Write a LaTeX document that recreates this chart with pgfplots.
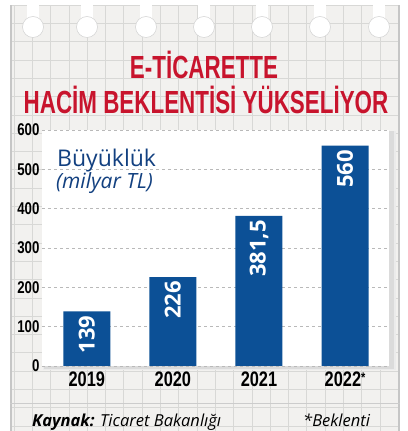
\documentclass[border=0pt]{standalone}
\usepackage{fontspec}
\usepackage{pgfplots}
\pgfplotsset{compat=1.18}
\setmainfont{Open Sans}
\newfontfamily\titlefont[FakeStretch=0.70]{Liberation Sans}
\newfontfamily\tickfont[FakeStretch=0.78]{Liberation Sans}
\newfontfamily\barfont{Open Sans}
\definecolor{barblue}{RGB}{12,80,150}
\definecolor{legblue}{RGB}{18,64,128}
\definecolor{titlered}{RGB}{200,20,45}
\definecolor{paper}{RGB}{242,241,239}
\definecolor{gridc}{RGB}{216,216,214}
\begin{document}
\begin{tikzpicture}[x=1pt,y=1pt]
\path[use as bounding box] (0,0) rectangle (407,431);
\fill[white] (0,0) rectangle (407,431);
% paper
\fill[paper] (10,0) rectangle (400,426);
\begin{scope}
\clip (10,0) rectangle (400,426);
\foreach \i in {0,...,22} {\draw[gridc,line width=0.7pt] ({14+\i*18.3},0) -- ({14+\i*18.3},426);}
\foreach \j in {0,...,23} {\draw[gridc,line width=0.7pt] (10,{5+\j*18.3}) -- (400,{5+\j*18.3});}
\end{scope}
\draw[gray!45,line width=2pt] (11,0) -- (11,426);
\draw[gray!45,line width=2pt] (399,0) -- (399,426);
\draw[gray!40,line width=0.8pt] (10,28) -- (400,28);
% holes
\foreach \x in {33,87,146,204,262,320,379} {
  \fill[white] (\x,404) circle (10.5);
  \fill[white] (\x-6,408) rectangle (\x+6,427);
  \draw[gray!35,line width=0.5pt] (\x,404) circle (10.5);
}
% title
\node[font=\titlefont\bfseries\fontsize{32}{32}\selectfont, text=titlered, anchor=base] at (204,352) {E-TİCARETTE};
\node[font=\titlefont\bfseries\fontsize{32}{32}\selectfont, text=titlered, anchor=base] at (206,317) {HACİM BEKLENTİSİ YÜKSELİYOR};
% shadow
\fill[black!8] (43,61) rectangle (396,300);
\fill[black!14] (44,62) rectangle (394,300);
\begin{axis}[
  at={(42pt,65pt)}, anchor=south west,
  scale only axis, width=347pt, height=236pt,
  xmin=-0.52, xmax=3.51, ymin=0, ymax=600,
  ybar, bar width=47pt, bar shift=0pt,
  axis line style={draw=none},
  axis background/.style={fill=white},
  ymajorgrids, grid style={dashed, gray!55, line width=0.6pt},
  ytick={0,100,...,600}, xtick={0,1,2,3},
  xticklabels={2019,2020,2021,2022{\fontsize{14}{14}\selectfont\raisebox{4pt}{*}}},
  major tick length=0pt,
  /pgf/number format/assume math mode=true,
  yticklabel style={font=\tickfont\bfseries\fontsize{17}{17}\selectfont, xshift=1pt},
  xticklabel style={font=\tickfont\bfseries\fontsize{21}{21}\selectfont, yshift=-2pt},
  nodes near coords, point meta=explicit symbolic,
  every node near coord/.append style={rotate=90, anchor=east, font=\barfont\bfseries\fontsize{22}{22}\selectfont, text=white, inner xsep=4pt},
  clip=false,
]
\addplot[fill=barblue, draw=none] coordinates {(0,139)[139] (1,226)[226] (2,381.5)[381,5] (3,560)[560]};
\end{axis}
% legend text
\node[anchor=base west, inner sep=0, text=legblue, font=\fontsize{23}{23}\selectfont] at (57,264) {Büyüklük};
\node[anchor=base west, inner sep=0, text=legblue, font=\itshape\fontsize{21}{21}\selectfont] at (56,242) {(milyar TL)};
% footer
\node[anchor=base west, inner sep=0, font=\itshape\fontsize{16.5}{16.5}\selectfont] at (32,5) {\textbf{Kaynak:} Ticaret Bakanlığı};
\node[anchor=base west, inner sep=0, font=\itshape\fontsize{16.5}{16.5}\selectfont] at (303,5) {*Beklenti};
\end{tikzpicture}
\end{document}
